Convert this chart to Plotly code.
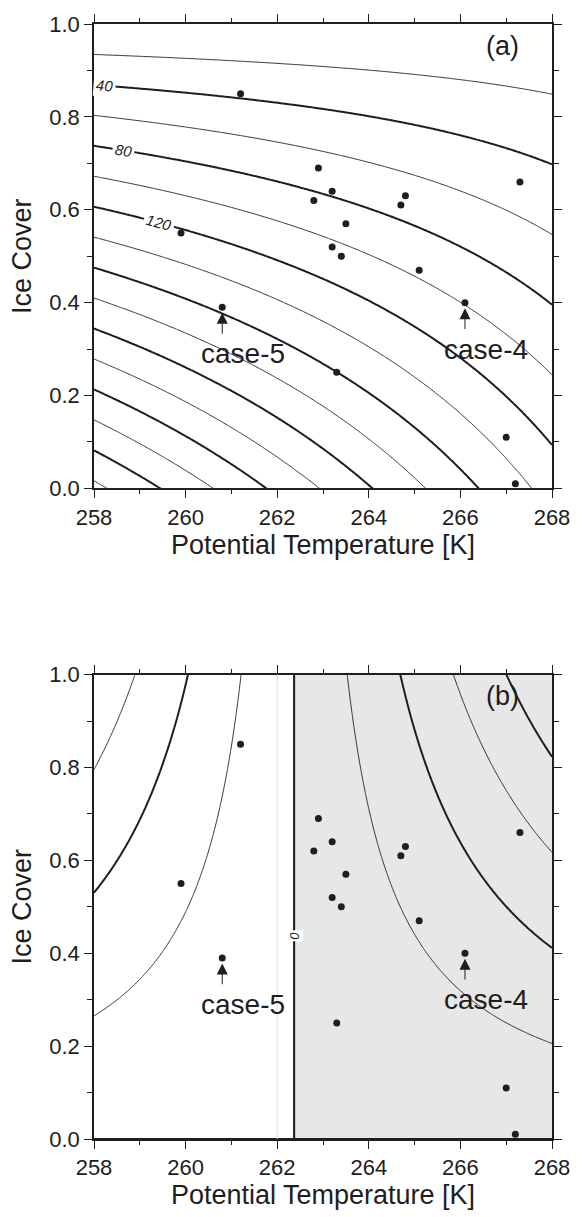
import numpy as np
import plotly.graph_objects as go

# ---- observed cases: potential temperature [K] and ice cover fraction ----
theta = [261.2, 259.9, 262.9, 262.8, 263.2, 263.5, 263.2, 263.4, 264.8,
         264.7, 267.3, 265.1, 266.1, 260.8, 263.3, 267.0, 267.2]
ice = [0.85, 0.55, 0.69, 0.62, 0.64, 0.57, 0.52, 0.50, 0.63,
       0.61, 0.66, 0.47, 0.40, 0.39, 0.25, 0.11, 0.01]

case_names = ["case-5", "case-4"]
case_theta = [260.8, 266.1]
case_ice = [0.39, 0.40]

# ---- bulk flux model coefficients ----
K_FLUX = 17.26      # exchange coefficient per K
T_OPEN = 275.67     # (a): K * (1 - ice) * (T_OPEN - theta)
T_ICE = 262.37      # (b): K * ice * (theta - T_ICE)
REF_THETA = 262.0   # faint reference line in (b)

label_levels_a = [40, 80, 120]

# ---- styling ----
INK = "#1f1d1e"
SHADE = "#e6e7e6"
FONT = "Liberation Sans, Arial, sans-serif"
W, H = 582, 1217
ML, MR, MT, MB = 94, 19, 17, 74
PANEL = 469
plot_h = H - MT - MB
dom_a = [1 - PANEL / plot_h, 1]
dom_b = [0, PANEL / plot_h]

th_grid = np.linspace(258, 268, 251)
ic_grid = np.linspace(-0.03, 1.03, 266)
TH, IC = np.meshgrid(th_grid, ic_grid)
field_a = K_FLUX * (1 - IC) * (T_OPEN - TH)
field_b = K_FLUX * IC * (TH - T_ICE)

fig = go.Figure()


def line_contours(z, xa, ya, start, end, size, width):
    return go.Contour(
        x=th_grid, y=ic_grid, z=z, xaxis=xa, yaxis=ya,
        contours=dict(coloring="none", start=start, end=end, size=size,
                      showlabels=False),
        line=dict(color=INK, width=width, smoothing=1),
        showscale=False, hoverinfo="skip",
    )


# panel (a): open-water flux isolines (thin at 20, 60, ...; thick at 40, 80, ...)
fig.add_trace(line_contours(field_a, "x", "y", 20, 300, 40, 0.9))
fig.add_trace(line_contours(field_a, "x", "y", 40, 280, 40, 2.0))

# panel (b): positive region shaded, bounded by the zero isoline
fig.add_trace(go.Contour(
    x=th_grid, y=ic_grid, z=field_b, xaxis="x2", yaxis="y2",
    contours=dict(type="constraint", operation="<", value=0),
    fillcolor=SHADE, line=dict(color=INK, width=1.5),
    showscale=False, hoverinfo="skip",
))
fig.add_shape(type="line", xref="x2", yref="y2 domain", x0=REF_THETA,
              x1=REF_THETA, y0=0, y1=1, line=dict(color="#dcdcdc", width=1),
              layer="above")
fig.add_trace(line_contours(field_b, "x2", "y2", -60, 60, 40, 0.9))
fig.add_trace(line_contours(field_b, "x2", "y2", -80, 80, 40, 2.0))

# observation points on both panels
for xa, ya in (("x", "y"), ("x2", "y2")):
    fig.add_trace(go.Scatter(
        x=theta, y=ice, xaxis=xa, yaxis=ya, mode="markers",
        marker=dict(size=7, color=INK), hoverinfo="skip", showlegend=False,
    ))

# contour labels in panel (a), placed on their isolines
label_theta_a = [258.23, 258.65, 259.42]
for lev, th in zip(label_levels_a, label_theta_a):
    amp = K_FLUX * (T_OPEN - th)
    yy = 1 - lev / amp
    slope = lev * K_FLUX / amp ** 2          # -dy/dx in data units
    ang = np.degrees(np.arctan(slope * PANEL / (PANEL / 10.0)))
    fig.add_annotation(x=th, y=yy, xref="x", yref="y", text=str(lev),
                       showarrow=False, textangle=ang, bgcolor="white",
                       borderpad=2,
                       font=dict(family=FONT, size=15, color=INK,
                                 style="italic"))

# zero label in panel (b)
fig.add_annotation(x=T_ICE, y=0.438, xref="x2", yref="y2", text="0",
                   showarrow=False, textangle=-90, bgcolor="white",
                   borderpad=1,
                   font=dict(family=FONT, size=13, color=INK, style="italic"))

# case markers with arrows
for xa, ya in (("x", "y"), ("x2", "y2")):
    for name, cx, cy in zip(case_names, case_theta, case_ice):
        fig.add_annotation(x=cx, y=cy - 0.012, ax=cx, ay=cy - 0.06,
                           xref=xa, yref=ya, axref=xa, ayref=ya, text="",
                           showarrow=True, arrowhead=2, arrowsize=2.2,
                           arrowwidth=1, arrowcolor=INK, standoff=0)
        fig.add_annotation(x=cx, y=cy - 0.10, xref=xa, yref=ya, text=name,
                           showarrow=False, xshift=21,
                           font=dict(family=FONT, size=28, color=INK))

# panel tags
for xa, ya, tag in (("x", "y", "(a)"), ("x2", "y2", "(b)")):
    fig.add_annotation(x=266.92, y=0.953, xref=xa, yref=ya, text=tag,
                       showarrow=False,
                       font=dict(family=FONT, size=27, color=INK))

axis_common = dict(
    showline=True, linewidth=1.6, linecolor=INK, mirror="allticks",
    ticks="outside", ticklen=8, tickwidth=1.4, tickcolor=INK,
    showgrid=False, zeroline=False,
    tickfont=dict(family=FONT, size=22, color=INK),
)
xcommon = dict(axis_common, range=[258, 268], tick0=258, dtick=2,
               minor=dict(ticks="outside", ticklen=4, tickwidth=1.2,
                          tickcolor=INK, dtick=1, showgrid=False),
               title=dict(text="Potential Temperature [K]", standoff=6,
                          font=dict(family=FONT, size=27, color=INK)))
ycommon = dict(axis_common, range=[0, 1], tick0=0, dtick=0.2,
               tickformat=".1f",
               minor=dict(ticks="outside", ticklen=5, tickwidth=1.2,
                          tickcolor=INK, dtick=0.1, showgrid=False),
               title=dict(text="Ice Cover", standoff=10,
                          font=dict(family=FONT, size=27, color=INK)))

fig.update_layout(
    width=W, height=H, margin=dict(l=ML, r=MR, t=MT, b=MB),
    paper_bgcolor="white", plot_bgcolor="white", showlegend=False,
    xaxis=dict(xcommon, domain=[0, 1], anchor="y"),
    yaxis=dict(ycommon, domain=dom_a, anchor="x"),
    xaxis2=dict(xcommon, domain=[0, 1], anchor="y2"),
    yaxis2=dict(ycommon, domain=dom_b, anchor="x2"),
)

fig.write_html("out.html")
